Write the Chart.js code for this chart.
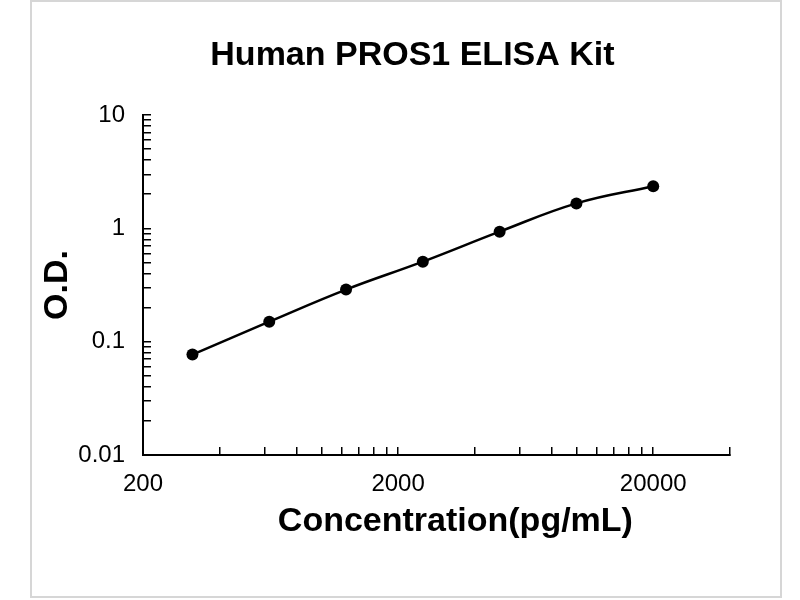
<!DOCTYPE html>
<html>
<head>
<meta charset="utf-8">
<title>Human PROS1 ELISA Kit</title>
<script src="https://cdn.jsdelivr.net/npm/chart.js@4.4.1/dist/chart.umd.min.js"></script>
<style>
    body { margin: 0; background: #fff; }
    #frame { position: absolute; left: 30px; top: 0; width: 748px; height: 594px; border: 2px solid #d6d6d6; }
    #wrap { position: absolute; left: 0; top: 0; width: 800px; height: 600px; }
</style>
</head>
<body>
<div id="frame"></div>
<div id="wrap"><canvas id="myChart" width="800" height="600"></canvas></div>
<script>
// standard curve (pg/mL vs O.D.)
const concentrations = [312.5, 625, 1250, 2500, 5000, 10000, 20000];
const odValues = [0.077, 0.150, 0.288, 0.508, 0.935, 1.66, 2.35];

// tick marks and the ones that get a label
const xTicks = [200, 400, 600, 800, 1000, 1200, 1400, 1600, 1800, 2000,
    4000, 6000, 8000, 10000, 12000, 14000, 16000, 18000, 20000, 40000];
const xLabelled = [200, 2000, 20000];
const yTicks = [0.01, 0.02, 0.03, 0.04, 0.05, 0.06, 0.07, 0.08, 0.09,
    0.1, 0.2, 0.3, 0.4, 0.5, 0.6, 0.7, 0.8, 0.9,
    1, 2, 3, 4, 5, 6, 7, 8, 9, 10];
const yLabelled = [0.01, 0.1, 1, 10];

const fontFamily = "'Liberation Sans', Arial, sans-serif";

const data = {
    datasets: [{
        label: "O.D.",
        data: concentrations.map((c, i) => ({ x: c, y: odValues[i] })),
        showLine: true,
        borderColor: "#000",
        borderWidth: 2.5,
        backgroundColor: "#000",
        pointRadius: 6,
        pointBackgroundColor: "#000",
        pointBorderWidth: 0,
        tension: 0.4
    }]
};

const config = {
    type: "scatter",
    data: data,
    options: {
        responsive: false,
        animation: false,
        layout: { padding: { left: 76, right: 70, top: 0, bottom: 57.6 } },
        plugins: {
            legend: { display: false },
            tooltip: { enabled: false },
            title: {
                display: true,
                text: "  Human PROS1 ELISA Kit",
                color: "#000",
                font: { family: fontFamily, size: 34, weight: "bold" },
                padding: { top: 35.6, bottom: 38.6 }
            }
        },
        scales: {
            x: {
                type: "logarithmic",
                position: "bottom",
                min: 200,
                max: 40000,
                afterBuildTicks: s => { s.ticks = xTicks.map(v => ({ value: v })); },
                afterFit: s => { s.height = 87.4; },
                ticks: {
                    autoSkip: false,
                    maxRotation: 0,
                    minRotation: 0,
                    padding: 22.5,
                    color: "#000",
                    font: { family: fontFamily, size: 24 },
                    callback: v => xLabelled.includes(v) ? String(v) : ""
                },
                grid: { drawOnChartArea: false, drawTicks: true, tickLength: -8, color: "#000", lineWidth: 1.5 },
                border: { color: "#000", width: 2 },
                title: {
                    display: true,
                    text: "    Concentration(pg/mL)",
                    color: "#000",
                    font: { family: fontFamily, size: 34, weight: "bold" },
                    padding: 0
                }
            },
            y: {
                type: "logarithmic",
                position: "left",
                min: 0.01,
                max: 10,
                afterBuildTicks: s => { s.ticks = yTicks.map(v => ({ value: v })); },
                afterFit: s => { s.width = 67; },
                ticks: {
                    autoSkip: false,
                    padding: 26,
                    color: "#000",
                    font: { family: fontFamily, size: 24 },
                    callback: v => yLabelled.includes(v) ? String(v) : ""
                },
                grid: { drawOnChartArea: false, drawTicks: true, tickLength: -8, color: "#000", lineWidth: 1.5 },
                border: { color: "#000", width: 2 },
                title: {
                    display: true,
                    text: "O.D.",
                    color: "#000",
                    font: { family: fontFamily, size: 34, weight: "bold" },
                    // pulled back left, outside the scale box
                    padding: { top: -38.4, bottom: 0 }
                }
            }
        }
    }
};

new Chart(document.getElementById("myChart"), config);
</script>
</body>
</html>
